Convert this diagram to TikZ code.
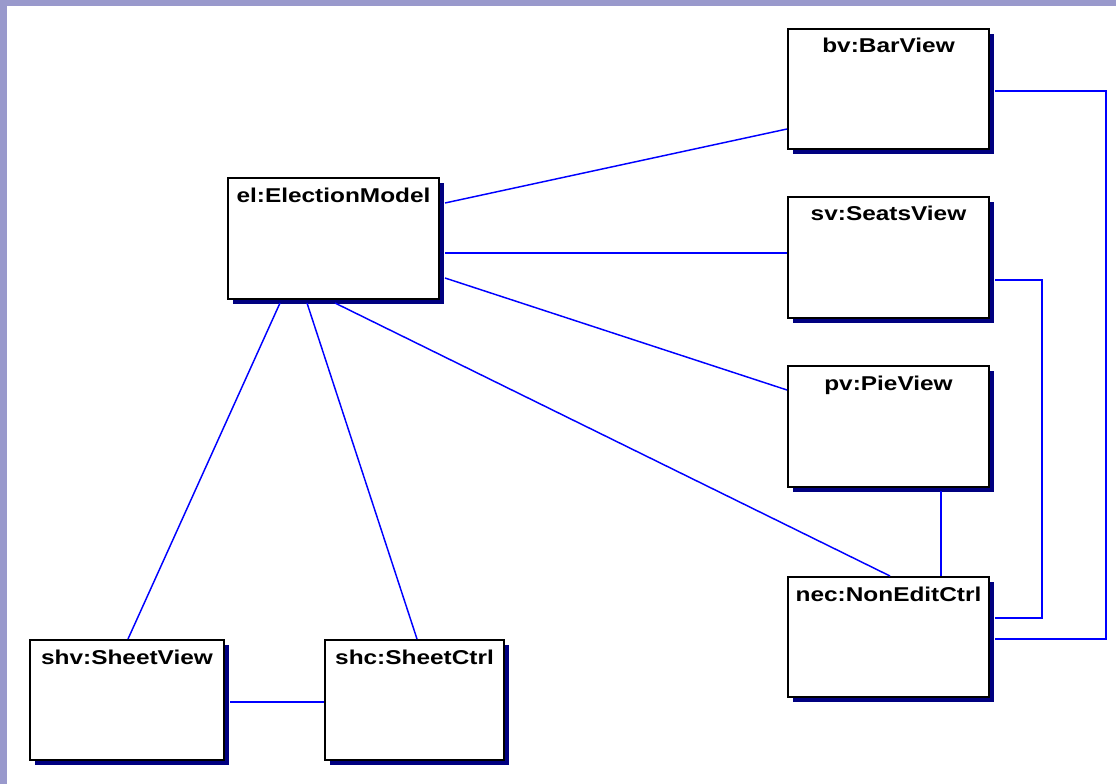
\documentclass[tikz,border=0pt]{standalone}
\usepackage{fontspec}
\newfontfamily\lblfont[FakeStretch=1.22]{Liberation Sans}
\usetikzlibrary{shadows}
\definecolor{frame}{HTML}{9999CC}
\definecolor{navyshadow}{HTML}{000080}
\definecolor{linkblue}{HTML}{0000FF}
\tikzset{
  x=0.75pt, y=-0.75pt,
  objbox/.style={draw=black, line width=1.5pt, fill=white, rectangle, anchor=north west, inner sep=0pt,
    general shadow={fill=navyshadow, shadow xshift=3.75pt, shadow yshift=-3.75pt}},
  objlabel/.style={anchor=base, inner sep=0pt, font=\lblfont\bfseries\fontsize{15pt}{15pt}\selectfont},
  link/.style={draw=linkblue, line width=1.1pt}
}
\begin{document}
\begin{tikzpicture}
\useasboundingbox (0,0) rectangle (1116,784);
\fill[frame] (0,0) rectangle (1116,784);
\fill[white] (7,6) rectangle (1116,784);

% boxes
\node[objbox, minimum width=150.75pt, minimum height=90pt] (bv) at (787,28) {};
\node[objbox, minimum width=150.75pt, minimum height=90.75pt] (sv) at (787,196) {};
\node[objbox, minimum width=150.75pt, minimum height=90.75pt] (pv) at (787,365) {};
\node[objbox, minimum width=150.75pt, minimum height=90pt] (nec) at (787,576) {};
\node[objbox, minimum width=158.25pt, minimum height=90.75pt] (el) at (227,177) {};
\node[objbox, minimum width=145.5pt, minimum height=90pt] (shv) at (29,639) {};
\node[objbox, minimum width=134.25pt, minimum height=90pt] (shc) at (324,639) {};

% labels
\node[objlabel] (bvl) at ([shift={(0,25)}]bv.north) {bv:BarView};
\node[objlabel] (svl) at ([shift={(0,25)}]sv.north) {sv:SeatsView};
\node[objlabel] (pvl) at ([shift={(0,25)}]pv.north) {pv:PieView};
\node[objlabel] (necl) at ([shift={(0,25)}]nec.north) {nec:NonEditCtrl};
\node[objlabel] (ell) at ([shift={(0,26)}]el.north) {el:ElectionModel};
\node[objlabel] (shvl) at ([shift={(0,25)}]shv.north) {shv:SheetView};
\node[objlabel] (shcl) at ([shift={(0,25)}]shc.north) {shc:SheetCtrl};

% connectors
\draw[link] ([shift={(5,26)}]el.north east) -- ([shift={(0,101)}]bv.north west);
\draw[link] ([shift={(5,76)}]el.north east) -- ([shift={(0,57)}]sv.north west);
\draw[link] ([shift={(5,101)}]el.north east) -- ([shift={(0,25)}]pv.north west);
\draw[link] ([shift={(108,126)}]el.north west) -- ([shift={(103,0)}]nec.north west);
\draw[link] ([shift={(53,126)}]el.north west) -- ([shift={(99,0)}]shv.north west);
\draw[link] ([shift={(80,126)}]el.north west) -- ([shift={(93,0)}]shc.north west);
\draw[link] ([shift={(5,63)}]shv.north east) -- ([shift={(0,63)}]shc.north west);
\draw[link] ([shift={(154,126)}]pv.north west) -- ([shift={(154,0)}]nec.north west);
\draw[link] ([shift={(5,84)}]sv.north east) -- ++(47,0) |- ([shift={(5,42)}]nec.north east);
\draw[link] ([shift={(5,63)}]bv.north east) -- ++(111,0) |- ([shift={(5,63)}]nec.north east);
\end{tikzpicture}
\end{document}
